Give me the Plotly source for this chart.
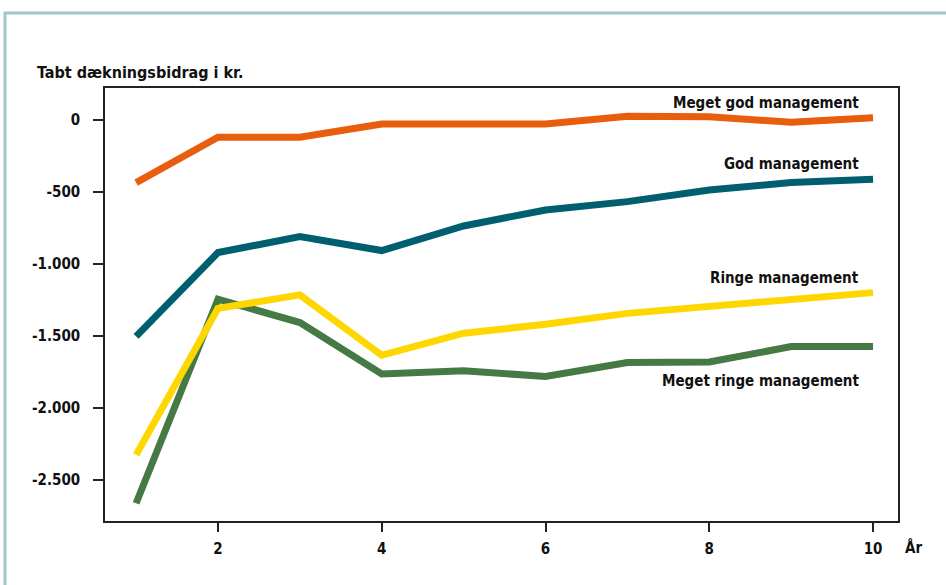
import plotly.graph_objects as go

years = [1, 2, 3, 4, 5, 6, 7, 8, 9, 10]
meget_god = [-435, -120, -120, -28, -28, -28, 25, 22, -16, 15]
god = [-1503, -921, -810, -907, -736, -625, -567, -486, -435, -412]
ringe = [-2326, -1308, -1215, -1634, -1481, -1419, -1343, -1296, -1245, -1199]
meget_ringe = [-2662, -1245, -1407, -1764, -1741, -1782, -1685, -1681, -1574, -1574]

series_names = ["Meget ringe management", "Ringe management", "God management", "Meget god management"]
series_values = [meget_ringe, ringe, god, meget_god]
series_colors = ["#467a45", "#ffd700", "#005f6e", "#e85e0e"]
label_y = [-1813, -1097, -306, 118]

ytick_vals = [0, -500, -1000, -1500, -2000, -2500]
ytick_text = ["0", "-500", "-1.000", "-1.500", "-2.000", "-2.500"]
xtick_vals = [2, 4, 6, 8, 10]

FONT = "DejaVu Sans Condensed, Liberation Sans Narrow, Roboto, Arial, sans-serif"

L, T, PW, PH = 105, 88, 793, 433
W, H = 946, 585

def px(x):
    return (x - L) / PW

def py(y):
    return (T + PH - y) / PH

fig = go.Figure()
for name, vals, col in zip(series_names, series_values, series_colors):
    fig.add_trace(go.Scatter(x=years, y=vals, mode="lines", name=name,
                             line=dict(color=col, width=7), showlegend=False))

for name, ly in zip(series_names, label_y):
    fig.add_annotation(x=9.85, y=ly, xref="x", yref="y", text=f"<b>{name}</b>",
                       showarrow=False, xanchor="right", yanchor="middle",
                       font=dict(family=FONT, size=15, color="#111"))

fig.add_annotation(x=px(35), y=py(73), xref="paper", yref="paper",
                   text="<b>Tabt dækningsbidrag i kr.</b>", showarrow=False,
                   xanchor="left", yanchor="middle",
                   font=dict(family=FONT, size=16, color="#111"))
fig.add_annotation(x=px(913), y=py(547), xref="paper", yref="paper",
                   text="<b>År</b>", showarrow=False,
                   xanchor="center", yanchor="middle",
                   font=dict(family=FONT, size=15, color="#111"))

# outer frame
fig.add_shape(type="rect", xref="paper", yref="paper",
              x0=px(5), x1=px(990),
              y0=py(640), y1=py(13),
              line=dict(color="#a3c5cd", width=3), layer="below")

fig.update_layout(
    width=W, height=H,
    margin=dict(l=L, r=W - L - PW, t=T, b=H - T - PH),
    plot_bgcolor="white", paper_bgcolor="white",
    font=dict(family=FONT, size=15, color="#111"),
)
fig.update_xaxes(range=[0.62, 10.305], tickvals=xtick_vals,
                 ticktext=[f"<b>{v}</b>" for v in xtick_vals],
                 showgrid=False, zeroline=False, showline=True, mirror=True,
                 linecolor="#222", linewidth=1.5, ticks="outside", ticklen=9,
                 tickcolor="#222", tickwidth=1.5, ticklabelstandoff=4)
fig.update_yaxes(range=[-2785, 222], tickvals=ytick_vals,
                 ticktext=[f"<b>{t}</b>" for t in ytick_text],
                 showgrid=False, zeroline=False, showline=True, mirror=True,
                 linecolor="#222", linewidth=1.5, ticks="outside", ticklen=10,
                 tickcolor="#222", tickwidth=1.5, ticklabelstandoff=10)

fig.write_html("out.html", config={"displayModeBar": False},
               post_script="document.body.style.margin='0';document.body.style.overflow='hidden';")
